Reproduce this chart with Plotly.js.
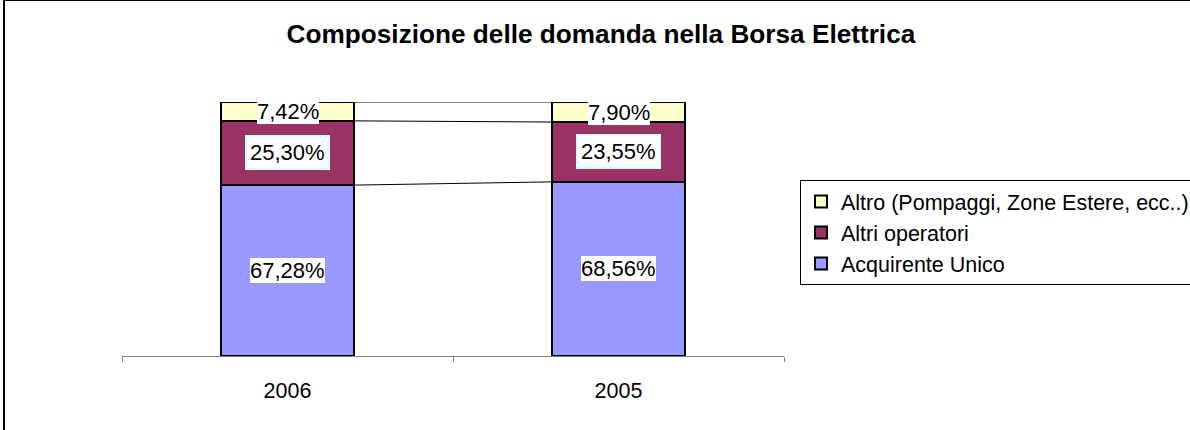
<!DOCTYPE html>
<html><head><meta charset="utf-8">
<script src="https://cdn.plot.ly/plotly-3.0.1.min.js"></script>
<style>html,body{margin:0;padding:0;background:#fff;overflow:hidden}#c{width:1190px;height:430px;position:absolute;left:0;top:0}
#frame{position:absolute;left:3px;top:0;width:1200px;height:440px;border-top:1px solid #000;border-left:2px solid #000;pointer-events:none}</style>
</head><body><div id="c"></div><div id="frame"></div>
<script>
const categories = ['2006', '2005'];
const seriesNames = ['Acquirente Unico', 'Altri operatori', 'Altro (Pompaggi, Zone Estere, ecc..)'];
const acquirenteUnico = [67.28, 68.56];
const altriOperatori = [25.30, 23.55];
const altro = [7.42, 7.90];
const labelAcquirente = ['67,28%', '68,56%'];
const labelAltri = ['25,30%', '23,55%'];
const labelAltro = ['7,42%', '7,90%'];

const colors = ['#9999FF', '#993366', '#FFFFCC'];
const series = [acquirenteUnico, altriOperatori, altro];
const labels = [labelAcquirente, labelAltri, labelAltro];
const labelBorders = ['rgba(0,0,0,0)', '#CCFFFF', 'rgba(0,0,0,0)'];
const labelBorderW = [0, 2, 0];
const labelPads = [0, 3, 0];
const font = 'Arial, "Liberation Sans", sans-serif';

const traces = series.map((vals, i) => ({
  type: 'bar', x: [0, 1], y: vals, name: seriesNames[i], width: 0.4,
  legendgroup: 'g' + i,
  marker: {color: colors[i], line: {color: '#000', width: 2}},
  hoverinfo: 'skip'
}));

const annotations = [];
const shapes = [];
const cum = [0, 0];
const bw = 0.4;
series.forEach((vals, i) => {
  const tops = [];
  vals.forEach((v, j) => {
    annotations.push({x: j, y: cum[j] + v / 2, xref: 'x', yref: 'y',
      text: labels[i][j], showarrow: false, bgcolor: '#fff',
      bordercolor: labelBorders[i], borderwidth: labelBorderW[i], borderpad: labelPads[i],
      font: {family: font, size: 22, color: '#000'}});
    cum[j] += v;
    tops.push(cum[j]);
  });
  shapes.push({type: 'line', xref: 'x', yref: 'y', x0: bw / 2, x1: 1 - bw / 2,
    y0: tops[0], y1: tops[1], line: {color: '#000', width: 1}, layer: 'below'});
});

const layout = {
  width: 1190, height: 430,
  margin: {l: 122, r: 406, t: 102, b: 74, autoexpand: false},
  paper_bgcolor: '#fff', plot_bgcolor: '#fff',
  barmode: 'stack',
  title: {text: '<b>Composizione delle domanda nella Borsa Elettrica</b>', x: 0.505, xanchor: 'center',
    y: 1 - 34 / 430, yanchor: 'middle', font: {family: font, size: 26.2, color: '#000'}},
  xaxis: {type: 'linear', range: [-0.5, 1.5], showline: true, linecolor: '#808080', linewidth: 1,
    tickvals: [0, 1], ticktext: categories, ticks: '',
    ticklabelstandoff: 15, tickfont: {family: font, size: 21.5, color: '#000'},
    showgrid: false, zeroline: false, fixedrange: true},
  xaxis2: {overlaying: 'x', type: 'linear', range: [-0.5, 1.5], tickvals: [-0.5, 0.5, 1.5],
    ticks: 'outside', ticklen: 5, tickcolor: '#808080', showticklabels: false,
    showgrid: false, zeroline: false, showline: false, anchor: 'y'},
  yaxis: {range: [0, 100], visible: false, showgrid: false, zeroline: false, fixedrange: true},
  showlegend: true,
  legend: {x: (800 - 122) / 662, xanchor: 'left', y: (356 - 180) / 254, yanchor: 'top', traceorder: 'reversed',
    tracegroupgap: 2,
    bordercolor: '#000', borderwidth: 1, bgcolor: '#fff',
    font: {family: font, size: 21.5, color: '#000'}, itemwidth: 30},
  annotations: annotations, shapes: shapes
};
traces.push({type: 'scatter', x: [0], y: [0], xaxis: 'x2', yaxis: 'y', mode: 'markers',
  marker: {opacity: 0}, showlegend: false, hoverinfo: 'skip'});
Plotly.newPlot('c', traces, layout, {displayModeBar: false, staticPlot: true});
</script></body></html>
